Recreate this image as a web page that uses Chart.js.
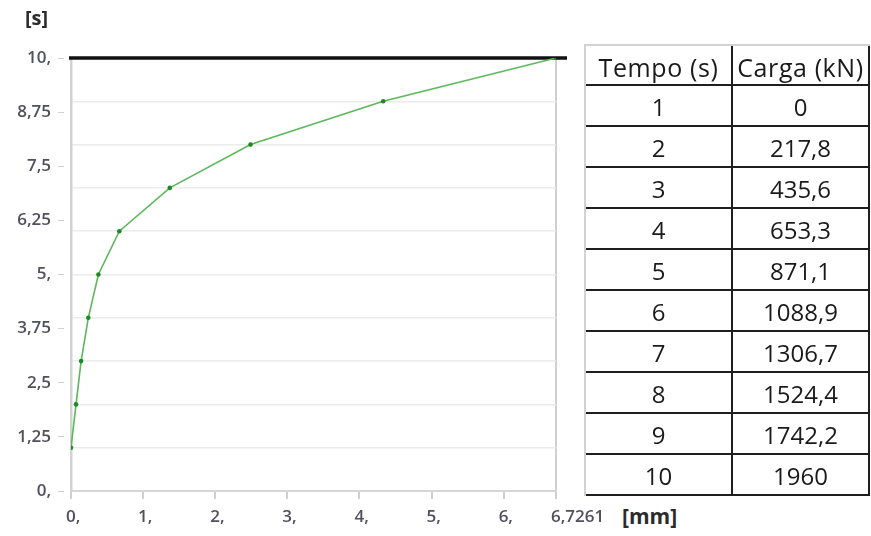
<!DOCTYPE html>
<html>
<head>
<meta charset="utf-8">
<script src="https://cdn.jsdelivr.net/npm/chart.js@4.4.0/dist/chart.umd.min.js"></script>
<style>
    html, body { margin: 0; padding: 0; background: #fff; }
    #wrap { position: relative; width: 871px; height: 536px; overflow: hidden; }
    #chartBox { position: absolute; left: 0; top: 0; width: 620px; height: 536px; }
    .unit { position: absolute; font-family: 'Open Sans', sans-serif; font-weight: 700; color: #2b2b2b; }
    #tabela {
        position: absolute; left: 584px; top: 44px; width: 286px;
        border-collapse: separate; border-spacing: 0;
        border-left: 2px solid #d2d2d2; border-top: 2px solid #d2d2d2;
        font-family: 'Open Sans', sans-serif; font-size: 24px; color: #1a1a1a;
    }
    #tabela td {
        border-right: 2px solid #1e1e1e; border-bottom: 2px solid #1e1e1e;
        text-align: center; padding: 3px 0 0 0; height: 36px; line-height: 30px;
    }
    #tabela tr.head td { height: 35px; font-size: 25px; letter-spacing: 0.6px; }
</style>
</head>
<body>
<div id="wrap">
    <div id="chartBox"><canvas id="graficoCarga"></canvas></div>
    <div class="unit" style="left:25px; top:4px; font-size:20px;">[s]</div>
    <div class="unit" style="left:622px; top:502px; font-size:21px;">[mm]</div>
    <table id="tabela"></table>
</div>

<script>
// ======================================================
// Dados
// ======================================================
const tempo = [1, 2, 3, 4, 5, 6, 7, 8, 9, 10];                                   // [s]
const deslocamento = [0, 0.07, 0.14, 0.24, 0.38, 0.67, 1.37, 2.49, 4.33, 6.7261]; // [mm]
const carga = ['0', '217,8', '435,6', '653,3', '871,1', '1088,9', '1306,7', '1524,4', '1742,2', '1960'];
const xTicks = [0, 1, 2, 3, 4, 5, 6, 6.7261];
const yTicks = [0, 1.25, 2.5, 3.75, 5, 6.25, 7.5, 8.75, 10];
const tabelaHeader = ['Tempo (s)', 'Carga (kN)'];

// formato pt-BR: "5," / "8,75" / "6,7261"
function fmt(v) {
    if (Number.isInteger(v)) return v + ',';
    return String(v).replace('.', ',');
}

// ======================================================
// Tabela
// ======================================================
const tabela = document.getElementById('tabela');
let html = '<tr class="head"><td style="width:145px">' + tabelaHeader[0] + '</td><td>' + tabelaHeader[1] + '</td></tr>';
tempo.forEach(function(t, i) {
    html += '<tr><td>' + t + '</td><td>' + carga[i] + '</td></tr>';
});
tabela.innerHTML = html;

// ======================================================
// Linha preta no topo (limite 10 s)
// ======================================================
const topLine = {
    id: 'topLine',
    beforeDatasetsDraw(chart) {
        const { ctx, chartArea, scales } = chart;
        const y = scales.y.getPixelForValue(10);
        ctx.save();
        ctx.strokeStyle = '#111';
        ctx.lineWidth = 3.5;
        ctx.beginPath();
        ctx.moveTo(scales.x.getPixelForValue(0) - 2, y);
        ctx.lineTo(chartArea.right + 11, y);
        ctx.stroke();
        ctx.restore();
    }
};

const tickFont = { family: 'Open Sans', size: 17, weight: '600' };
const tickColor = '#50505e';

new Chart(document.getElementById('graficoCarga').getContext('2d'), {
    type: 'scatter',
    data: {
        datasets: [{
            data: tempo.map(function(t, i) { return { x: deslocamento[i], y: t }; }),
            showLine: true,
            borderColor: '#5cb85a',
            borderWidth: 1.6,
            pointRadius: 2.3,
            pointBackgroundColor: '#1f8a25',
            pointBorderWidth: 0,
            tension: 0
        }]
    },
    options: {
        responsive: true,
        maintainAspectRatio: false,
        animation: false,
        layout: { padding: { left: 0, right: 64, top: 58, bottom: 0 } },
        plugins: { legend: { display: false }, tooltip: { enabled: false } },
        scales: {
            x: {
                type: 'linear',
                min: 0,
                max: 6.7261,
                afterBuildTicks: function(axis) { axis.ticks = xTicks.map(function(v) { return { value: v }; }); },
                afterFit: function(axis) { axis.height = 45; },
                grid: {
                    drawOnChartArea: true,
                    color: function(c) { return c.tick && c.tick.value === 6.7261 ? '#d0d0d0' : 'rgba(0,0,0,0)'; },
                    lineWidth: 2,
                    tickColor: '#cfcfcf',
                    tickLength: 8
                },
                border: { color: '#d6d6d6', width: 2 },
                ticks: {
                    autoSkip: false,
                    maxRotation: 0,
                    align: 'start',
                    labelOffset: -5,
                    padding: 8,
                    font: tickFont,
                    color: tickColor,
                    callback: function(v) { return fmt(v); }
                }
            },
            y: {
                position: 'left',
                weight: 10,
                min: 0,
                max: 10,
                afterBuildTicks: function(axis) { axis.ticks = yTicks.map(function(v) { return { value: v }; }); },
                afterFit: function(axis) { axis.width = 64; },
                grid: { drawOnChartArea: false, tickColor: '#cfcfcf', tickLength: 6 },
                border: { display: false },
                ticks: {
                    autoSkip: false,
                    padding: 7,
                    font: tickFont,
                    color: tickColor,
                    callback: function(v) { return fmt(v); }
                }
            },
            y2: {
                position: 'left',
                weight: 0,
                min: 0,
                max: 10,
                ticks: { display: false, stepSize: 1 },
                afterFit: function(axis) { axis.width = 7; },
                grid: { color: '#ececec', lineWidth: 1.5, drawTicks: false },
                border: { color: '#d2d2d2', width: 2.5 }
            }
        }
    },
    plugins: [topLine]
});
</script>
</body>
</html>
